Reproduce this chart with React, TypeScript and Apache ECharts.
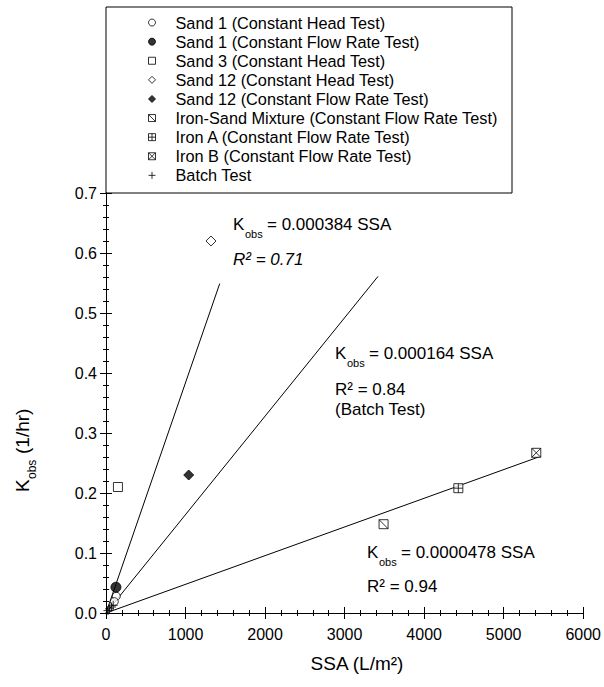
import React, { useEffect, useRef } from "react";
import * as echarts from "echarts";

// ---- data (SSA in L/m^2, Kobs in 1/hr) ----
const sand1HeadData = [[130, 0.028], [105, 0.019]];
const sand1FlowData = [[125, 0.043]];
const sand3HeadData = [[150, 0.21]];
const sand12HeadData = [[1320, 0.62]];
const sand12FlowData = [[1040, 0.23]];
const ironSandData = [[3490, 0.148]];
const ironAData = [[4430, 0.208]];
const ironBData = [[5410, 0.267]];
const batchData = [[25, 0.004], [45, 0.007], [70, 0.01], [90, 0.013]];

// fitted regression lines (endpoints)
const fitSand12 = [[0, 0], [1430, 0.549]];
const fitBatch = [[0, 0], [3420, 0.561]];
const fitIron = [[0, 0], [5450, 0.2605]];

const xTicks = [0, 1000, 2000, 3000, 4000, 5000, 6000];
const yTicks = [0, 0.1, 0.2, 0.3, 0.4, 0.5, 0.6, 0.7];

const seriesNames = [
  "Sand 1 (Constant Head Test)",
  "Sand 1 (Constant Flow Rate Test)",
  "Sand 3 (Constant Head Test)",
  "Sand 12 (Constant Head Test)",
  "Sand 12 (Constant Flow Rate Test)",
  "Iron-Sand Mixture (Constant Flow Rate Test)",
  "Iron A (Constant Flow Rate Test)",
  "Iron B (Constant Flow Rate Test)",
  "Batch Test",
];

const FONT = "'Liberation Sans', Arial, Helvetica, sans-serif";

const SQ = "M0,0L10,0L10,10L0,10Z";
const symDiag = "path://" + SQ + "M0,0L10,10";
const symPlusSq = "path://" + SQ + "M5,0L5,10M0,5L10,5";
const symXSq = "path://" + SQ + "M0,0L10,10M10,0L0,10";
const symPlus = "path://M5,0L5,10M0,5L10,5";

export default function App() {
  const ref = useRef<HTMLDivElement>(null);

  useEffect(() => {
    if (!ref.current) return;
    const chart = echarts.init(ref.current, undefined, { renderer: "svg" });

    const open = { color: "#ffffff", borderColor: "#000000", borderWidth: 1 };
    const filled = { color: "#000000", borderColor: "#000000", borderWidth: 1 };

    const scatter = (name: string, data: number[][], symbol: string, size: number, style: any) => ({
      name,
      type: "scatter",
      data,
      symbol,
      symbolSize: size,
      itemStyle: style,
      z: 5,
    });

    const fitLine = (data: number[][]) => ({
      type: "line",
      data,
      showSymbol: false,
      symbol: "none",
      lineStyle: { color: "#000", width: 1 },
      silent: true,
      z: 3,
    });

    const txt = (x: number, y: number, text: string, fontSize: number, extra: any = {}) => ({
      type: "text",
      x,
      y,
      style: {
        text,
        fontSize,
        fontFamily: FONT,
        fill: "#000000",
        align: "left",
        verticalAlign: "middle",
        ...extra,
      },
    });

    const kobs = (x: number, y: number, eq: string) => [
      txt(x, y, "K", 17),
      txt(x + 12, y + 10, "obs", 11),
      txt(x + 34, y, eq, 17),
    ];

    const axisCommon = {
      axisLine: { show: true, lineStyle: { color: "#000", width: 1 } },
      axisTick: { show: true, inside: true, length: 6, lineStyle: { color: "#000" } },
      minorTick: { show: true, splitNumber: 5, length: 3, lineStyle: { color: "#000" } },
      splitLine: { show: false },
      minorSplitLine: { show: false },
    };

    const option: any = {
      animation: false,
      backgroundColor: "#ffffff",
      grid: { left: 106, right: 18, top: 193, bottom: 74, containLabel: false },
      xAxis: [
        {
          type: "value",
          min: xTicks[0],
          max: xTicks[xTicks.length - 1],
          interval: 1000,
          position: "bottom",
          ...axisCommon,
          axisLabel: {
            show: true,
            fontSize: 16,
            fontFamily: FONT,
            color: "#000",
            margin: 13,
            formatter: (v: number) => String(v),
          },
        },
        {
          type: "value",
          min: xTicks[0],
          max: xTicks[xTicks.length - 1],
          interval: 1000,
          position: "top",
          ...axisCommon,
          axisLabel: { show: false },
        },
      ],
      yAxis: [
        {
          type: "value",
          min: yTicks[0],
          max: yTicks[yTicks.length - 1],
          interval: 0.1,
          position: "left",
          ...axisCommon,
          axisLabel: {
            show: true,
            fontSize: 16,
            fontFamily: FONT,
            color: "#000",
            margin: 9,
            formatter: (v: number) => v.toFixed(1),
          },
        },
        {
          type: "value",
          min: yTicks[0],
          max: yTicks[yTicks.length - 1],
          interval: 0.1,
          position: "right",
          ...axisCommon,
          axisLabel: { show: false },
        },
      ],
      legend: {
        show: true,
        orient: "vertical",
        left: 146,
        top: 13,
        padding: 0,
        itemGap: 0,
        itemWidth: 7,
        itemHeight: 7,
        data: seriesNames,
        selectedMode: false,
        itemStyle: { borderWidth: 1 },
        textStyle: {
          fontSize: 16.3,
          fontFamily: FONT,
          color: "#000",
          lineHeight: 19.1,
          padding: [0, 0, 0, 15],
        },
      },
      series: [
        scatter(seriesNames[0], sand1HeadData, "circle", 8, open),
        scatter(seriesNames[1], sand1FlowData, "circle", 10, filled),
        scatter(seriesNames[2], sand3HeadData, "rect", 9, open),
        scatter(seriesNames[3], sand12HeadData, "diamond", 10, open),
        scatter(seriesNames[4], sand12FlowData, "diamond", 10, filled),
        scatter(seriesNames[5], ironSandData, symDiag, 9, open),
        scatter(seriesNames[6], ironAData, symPlusSq, 9, open),
        scatter(seriesNames[7], ironBData, symXSq, 9, open),
        scatter(seriesNames[8], batchData, symPlus, 9, { color: "none", borderColor: "#000", borderWidth: 1 }),
        fitLine(fitSand12),
        fitLine(fitBatch),
        fitLine(fitIron),
      ],
      graphic: [
        {
          type: "rect",
          shape: { x: 106, y: 7, width: 406, height: 186 },
          style: { fill: "none", stroke: "#000", lineWidth: 1 },
          z: 1,
        },
        ...kobs(233, 224, "= 0.000384 SSA"),
        txt(233, 259, "R² = 0.71", 17, { fontStyle: "italic" }),
        ...kobs(335, 353, "= 0.000164 SSA"),
        txt(335, 389, "R² = 0.84", 17),
        txt(335, 409, "(Batch Test)", 17),
        ...kobs(367, 552, "= 0.0000478 SSA"),
        txt(367, 586, "R² = 0.94", 17),
        txt(357, 663, "SSA (L/m²)", 19, { align: "center" }),
        {
          type: "group",
          x: 22,
          y: 492,
          rotation: Math.PI / 2,
          children: [
            txt(0, 0, "K", 19),
            txt(13, 10, "obs", 12),
            txt(38, 0, "(1/hr)", 19),
          ],
        },
      ],
    };

    chart.setOption(option);
    return () => chart.dispose();
  }, []);

  return (
    <div
      ref={ref}
      style={{ position: "absolute", left: 0, top: 0, width: 604, height: 687 }}
    />
  );
}
